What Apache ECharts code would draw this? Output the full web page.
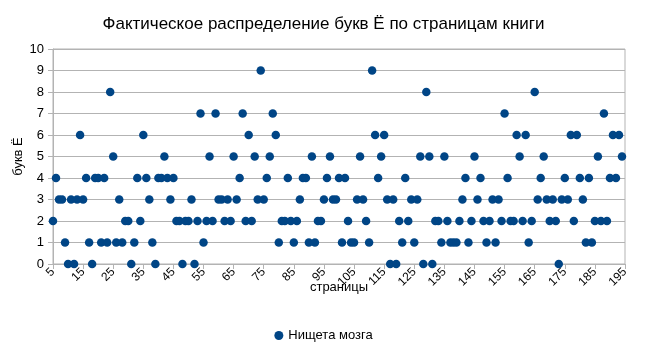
<!DOCTYPE html>
<html>
<head>
<meta charset="utf-8">
<script src="https://cdn.jsdelivr.net/npm/echarts@6/dist/echarts.min.js"></script>
<style>
html,body{margin:0;padding:0;background:#fff;}
#c{width:647px;height:348px;}
</style>
</head>
<body>
<div id="c"></div>
<script>
const titleText = 'Фактическое распределение букв Ё по страницам книги';
const seriesName = 'Нищета мозга';
const xName = 'страницы';
const yName = 'букв Ё';
const pages = [
  5,6,7,8,9,10,11,12,13,14,15,16,17,18,19,20,21,22,23,24,
  25,26,27,28,29,30,31,32,33,34,35,36,37,38,39,40,41,42,43,44,
  45,46,47,48,49,50,51,52,53,54,55,56,57,58,59,60,61,62,63,64,
  65,66,67,68,69,70,71,72,73,74,75,76,77,78,79,80,81,82,83,84,
  85,86,87,88,89,90,91,92,93,94,95,96,97,98,99,100,101,102,103,104,
  105,106,107,108,109,110,111,112,113,114,115,116,117,118,119,120,121,122,123,124,
  125,126,127,128,129,130,131,132,133,134,135,136,137,138,139,140,141,142,143,144,
  145,146,147,148,149,150,151,152,153,154,155,156,157,158,159,160,161,162,163,164,
  165,166,167,168,169,170,171,172,173,174,175,176,177,178,179,180,181,182,183,184,
  185,186,187,188,189,190,191,192,193,194
];
const counts = [
  2,4,3,3,1,0,3,0,3,6,3,4,1,0,4,4,1,4,1,8,
  5,1,3,1,2,2,0,1,4,2,6,4,3,1,0,4,4,5,4,3,
  4,2,2,0,2,2,3,0,2,7,1,2,5,2,7,3,3,2,3,2,
  5,3,4,7,2,6,2,5,3,9,3,4,5,7,6,1,2,2,4,2,
  1,2,3,4,4,1,5,1,2,2,3,4,5,3,3,4,1,4,2,1,
  1,3,5,3,2,1,9,6,4,5,6,3,0,3,0,2,1,4,2,3,
  1,3,5,0,8,5,0,2,2,1,5,2,1,1,1,2,3,4,1,2,
  5,3,4,2,1,2,3,1,3,2,7,4,2,2,6,5,2,6,1,2,
  8,3,4,5,3,2,3,2,0,3,4,3,6,2,6,4,3,1,4,1,
  2,5,2,7,2,4,6,4,6,5
];
const xMin = 5, xMax = 195, xStep = 10;
const yMin = 0, yMax = 10, yStep = 1;

const data = pages.map((p, i) => [p, counts[i]]);
const font = 'Liberation Sans';
const chart = echarts.init(document.getElementById('c'), null, {renderer: 'canvas'});
chart.setOption({
  animation: false,
  backgroundColor: '#ffffff',
  textStyle: {fontFamily: font},
  title: {
    text: titleText, left: 'center', top: 11,
    textStyle: {fontFamily: font, fontSize: 17, fontWeight: 'normal', color: '#000'}
  },
  grid: {left: 53, right: 22, top: 49, bottom: 84, show: true, borderColor: '#b3b3b3', borderWidth: 1, containLabel: false},
  legend: {
    bottom: 1, left: 'center', icon: 'circle', itemWidth: 9, itemHeight: 9, itemGap: 5,
    textStyle: {fontFamily: font, fontSize: 13, color: '#000'},
    data: [seriesName]
  },
  xAxis: {
    type: 'value', min: xMin, max: xMax, interval: xStep,
    name: xName, nameLocation: 'middle', nameGap: 17, nameMoveOverlap: false,
    nameTextStyle: {fontFamily: font, fontSize: 13, color: '#000'},
    axisLine: {show: true, lineStyle: {color: '#b3b3b3'}},
    axisTick: {show: true, inside: false, length: 5, lineStyle: {color: '#b3b3b3'}},
    axisLabel: {rotate: 45, fontSize: 12, color: '#000', fontFamily: font, margin: 6},
    splitLine: {show: false}
  },
  yAxis: {
    type: 'value', min: yMin, max: yMax, interval: yStep,
    name: yName, nameLocation: 'middle', nameGap: 28, nameMoveOverlap: false,
    nameTextStyle: {fontFamily: font, fontSize: 13, color: '#000'},
    axisLine: {show: true, lineStyle: {color: '#b3b3b3'}},
    axisTick: {show: true, inside: false, length: 5, lineStyle: {color: '#b3b3b3'}},
    axisLabel: {fontSize: 13, color: '#000', fontFamily: font, margin: 9},
    splitLine: {show: true, lineStyle: {color: '#b3b3b3', width: 1}}
  },
  series: [{
    name: seriesName, type: 'scatter', data: data,
    symbol: 'circle', symbolSize: 8.5,
    itemStyle: {color: '#004586', opacity: 1}
  }]
});
</script>
</body>
</html>
